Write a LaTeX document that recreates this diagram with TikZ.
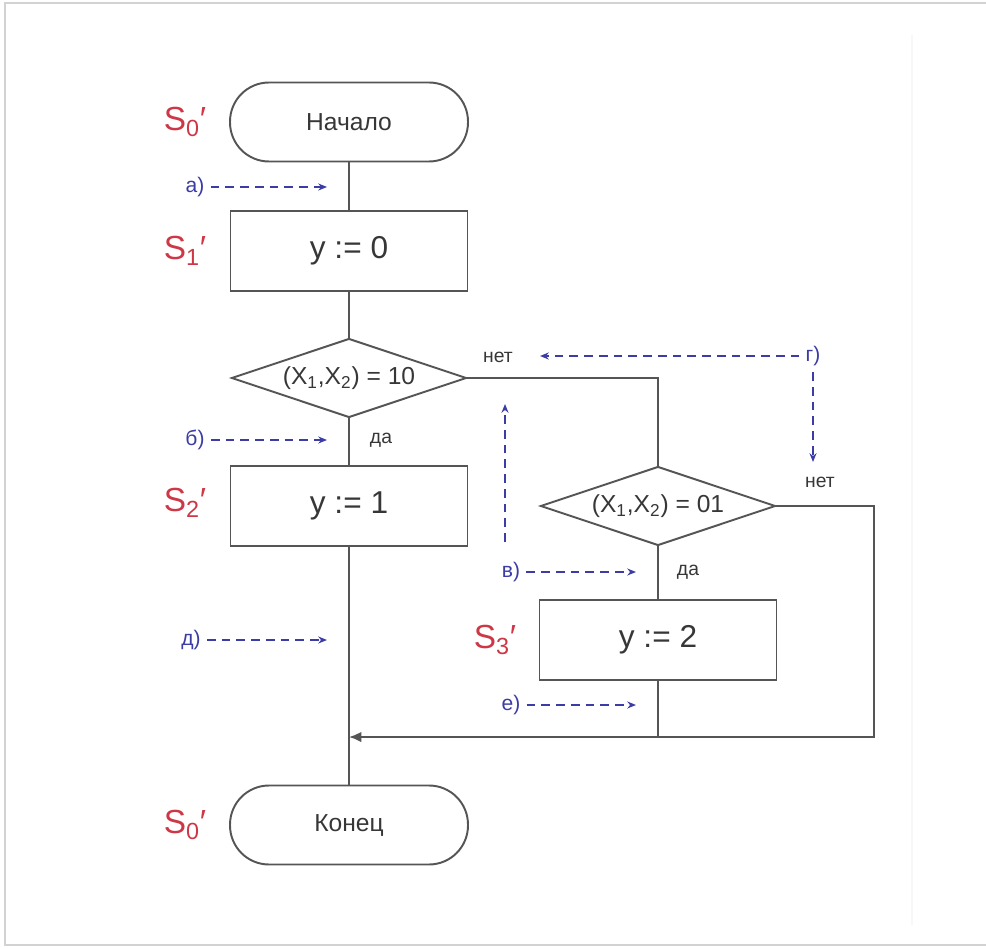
\documentclass[tikz,border=0pt]{standalone}
\usepackage{fontspec}
\setmainfont{Liberation Sans}
\usetikzlibrary{shapes.geometric,arrows.meta}
\definecolor{linegray}{RGB}{85,85,85}
\definecolor{textgray}{RGB}{55,55,55}
\definecolor{statered}{RGB}{205,55,70}
\definecolor{markblue}{RGB}{60,60,165}
\tikzset{
  term/.style={draw=linegray, line width=1.1pt, rounded corners=0.78cm,
    minimum width=4.76cm, minimum height=1.58cm,
    font=\fontsize{14}{16}\selectfont, text=textgray},
  opbox/.style={draw=linegray, line width=1.1pt, minimum width=4.74cm,
    minimum height=1.6cm, font=\fontsize{18}{20}\selectfont, text=textgray},
  cond/.style={diamond, shape aspect=3, draw=linegray, line width=1.1pt,
    minimum width=4.7cm, minimum height=1.58cm, inner sep=0pt,
    font=\fontsize{14}{16}\selectfont, text=textgray},
  flow/.style={linegray, line width=1.1pt},
  state/.style={text=statered, font=\fontsize{19}{21}\selectfont},
  tag/.style={text=markblue, font=\fontsize{12}{14}\selectfont},
  trace/.style={markblue, dash pattern=on 5pt off 3.4pt, line width=0.8pt,
    -{Stealth[length=5pt,width=4pt]}},
  answer/.style={text=textgray, font=\fontsize{11}{13}\selectfont},
}
\begin{document}
\begin{tikzpicture}[x=0.02cm, y=-0.02cm]
  \useasboundingbox (0,0) rectangle (986,949);
  % frame
  \draw[gray!35, line width=0.8pt] (986,3) -- (5,3) -- (5,945) -- (986,945);
  \draw[gray!6, line width=1pt] (912,35) -- (912,925);

  % blocks
  \node[term] (start) at (349,122) {Начало};
  \node[opbox] (s1) at (349,251) {y := 0};
  \node[cond] (d1) at (349,378) {(X\textsubscript{1},X\textsubscript{2}) = 10};
  \node[opbox] (s2) at (349,506) {y := 1};
  \node[cond] (d2) at (658,506) {(X\textsubscript{1},X\textsubscript{2}) = 01};
  \node[opbox] (s3) at (658,640) {y := 2};
  \node[term] (stop) at (349,825) {Конец};
  \coordinate (join) at (349,737);
  \coordinate (corner) at (874,737);

  % connectors
  \draw[flow] (start) -- (s1);
  \draw[flow] (s1) -- (d1);
  \draw[flow] (d1) -- (s2);
  \draw[flow] (s2) -- (stop);
  \draw[flow] (d1.east) -| (d2.north);
  \draw[flow] (d2) -- (s3);
  \draw[flow] (s3.south) -- (s3.south |- join);
  \draw[flow, -{Latex[length=7pt,width=6pt]}] (d2.east) -| (corner) -- (join);

  % answers
  \node[answer] (yes1) at (381,440) {да};
  \node[answer] (no1) at (498,357) {нет};
  \node[answer] (yes2) at (688,572) {да};
  \node[answer] (no2) at (820,482) {нет};

  % states
  \node[state] (l0) at (185,122) {S\textsubscript{0}′};
  \node[state] (l1) at (185,251) {S\textsubscript{1}′};
  \node[state] (l2) at (185,503) {S\textsubscript{2}′};
  \node[state] (l3) at (495,640) {S\textsubscript{3}′};
  \node[state] (l4) at (185,825) {S\textsubscript{0}′};

  % traces
  \node[tag] (ta) at (195,187) {а)};
  \node[tag] (tb) at (195,440) {б)};
  \node[tag] (td) at (191,640) {д)};
  \node[tag] (tv) at (511,572) {в)};
  \node[tag] (te) at (511,705) {е)};
  \node[tag] (tg) at (813,356) {г)};
  \coordinate (ta-end) at (327,187);
  \coordinate (tb-end) at (327,440);
  \coordinate (td-end) at (327,640);
  \coordinate (tv-end) at (636,572);
  \coordinate (te-end) at (636,705);
  \coordinate (tg-left) at (540,356);
  \coordinate (tg-down) at (813,462);
  \coordinate (up-from) at (505,542);
  \coordinate (up-to) at (505,404);
  \draw[trace] (ta) -- (ta-end);
  \draw[trace] (tb) -- (tb-end);
  \draw[trace] (td) -- (td-end);
  \draw[trace] (tv) -- (tv-end);
  \draw[trace] (te) -- (te-end);
  \draw[trace] (tg) -- (tg-left);
  \draw[trace] (tg.south) -- (tg-down);
  \draw[trace] (up-from) -- (up-to);
\end{tikzpicture}
\end{document}
